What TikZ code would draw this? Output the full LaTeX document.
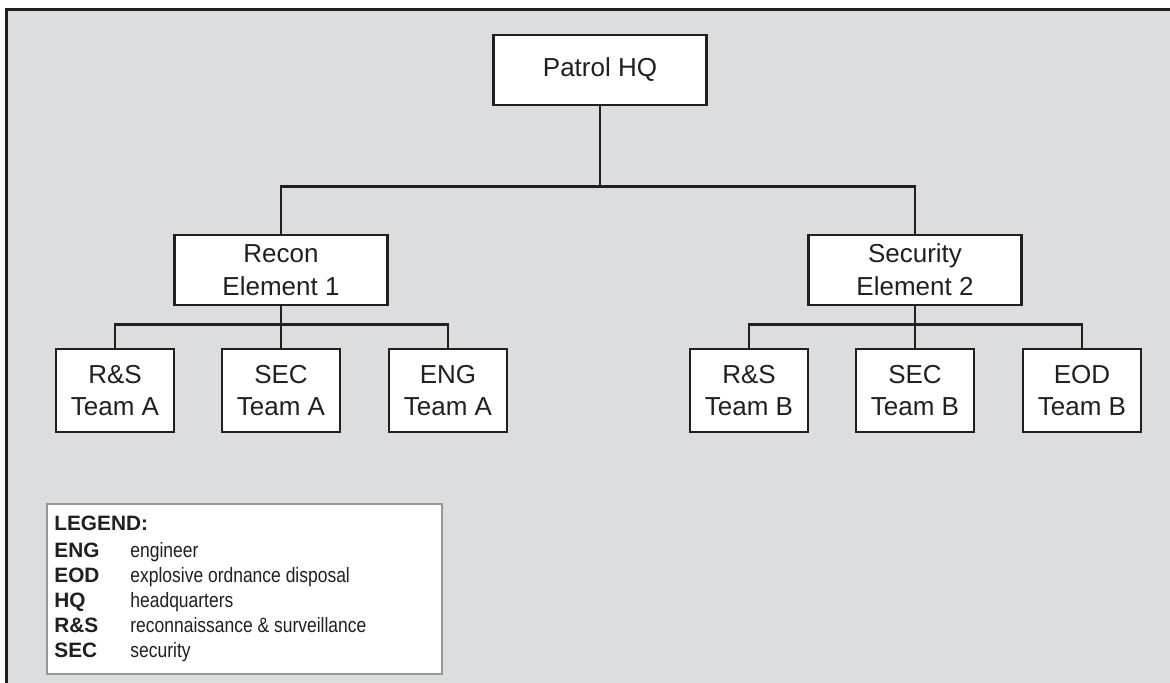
\documentclass[tikz,border=0pt]{standalone}
\usepackage{fontspec}
\setmainfont{Liberation Sans}
\newfontfamily\keynarrow[FakeStretch=0.84]{Liberation Sans}
\definecolor{panel}{RGB}{220,221,223}
\definecolor{keyline}{RGB}{150,150,152}
\definecolor{ink}{RGB}{35,31,32}
\begin{document}
\begin{tikzpicture}[x=0.5pt, y=-0.5pt,
    unit/.style={draw=ink, line width=1.3pt, rectangle, fill=white, minimum width=106.5pt, minimum height=35pt, inner sep=0pt, align=center, text=ink, font=\fontsize{13}{16.3}\selectfont},
    team/.style={unit, minimum width=59pt, minimum height=41.5pt},
    link/.style={line width=1.3pt, draw=ink}
]
\useasboundingbox (0,0) rectangle (1170,683);
\fill[panel] (6,10) rectangle (1170,683);
\draw[line width=1.5pt, ink] (6,683) -- (6,10) -- (1170,10);

\node[unit] (hq) at (600,70) {Patrol HQ};
\node[unit] (recon) at (281,270) {Recon\\Element 1};
\node[unit] (secel) at (915,270) {Security\\Element 2};

\node[team] (rsa) at (115,390.5) {R\&S\\Team A};
\node[team] (seca) at (281,390.5) {SEC\\Team A};
\node[team] (enga) at (448,390.5) {ENG\\Team A};
\node[team] (rsb) at (749,390.5) {R\&S\\Team B};
\node[team] (secb) at (915,390.5) {SEC\\Team B};
\node[team] (eodb) at (1082,390.5) {EOD\\Team B};

\draw[link] (hq.south) -- ++(0,80) -| (recon.north);
\draw[link] (hq.south) -- ++(0,80) -| (secel.north);
\draw[link] (recon.south) -- ++(0,18) -| (rsa.north);
\draw[link] (recon.south) -- (seca.north);
\draw[link] (recon.south) -- ++(0,18) -| (enga.north);
\draw[link] (secel.south) -- ++(0,18) -| (rsb.north);
\draw[link] (secel.south) -- (secb.north);
\draw[link] (secel.south) -- ++(0,18) -| (eodb.north);

\node[draw=keyline, line width=1.2pt, fill=white, minimum width=197.5pt, minimum height=85pt, inner sep=0pt, anchor=north west] (key) at (46,503) {};
\node[anchor=base west, inner sep=0pt, text=ink, font=\fontsize{10.4}{12.5}\selectfont] (keytext) at (54,530) {%
\begin{tabular}[t]{@{}p{38pt}@{}l@{}}
\multicolumn{2}{@{}l@{}}{\textbf{LEGEND:}}\\[1pt]
\textbf{ENG} & \keynarrow engineer\\
\textbf{EOD} & \keynarrow explosive ordnance disposal\\
\textbf{HQ} & \keynarrow headquarters\\
\textbf{R\&S} & \keynarrow reconnaissance \& surveillance\\
\textbf{SEC} & \keynarrow security
\end{tabular}};
\end{tikzpicture}
\end{document}
